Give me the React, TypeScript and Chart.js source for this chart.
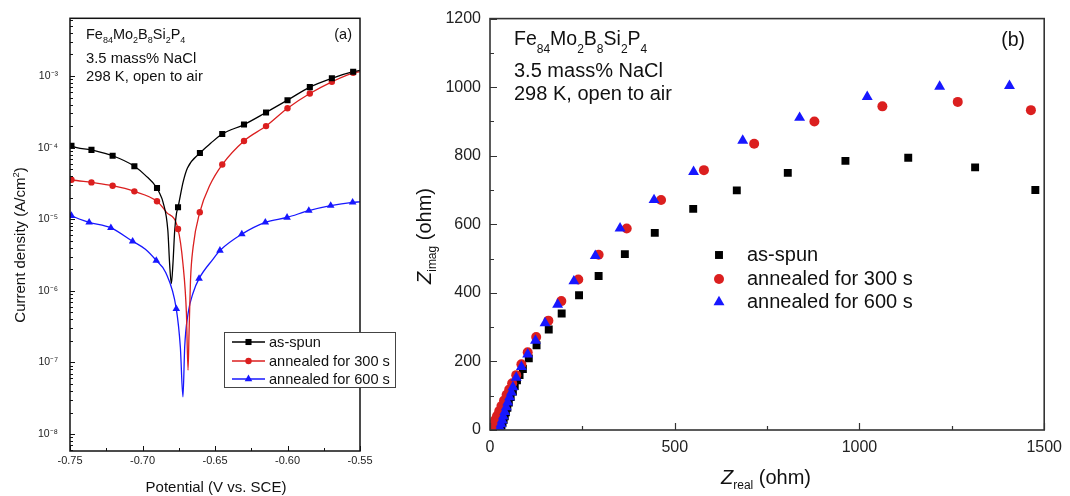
import React, { useEffect, useRef } from 'react';
import { Chart, registerables } from 'chart.js';

Chart.register(...registerables);

const FONT = "'Liberation Sans', Arial, Helvetica, sans-serif";

// ---------------- Panel (a): polarization curves ----------------
const seriesLabels = ['as-spun', 'annealed for 300 s', 'annealed for 600 s'];

const asSpunPotential = [-0.75, -0.749, -0.7352, -0.7206, -0.7056, -0.698, -0.69, -0.6882, -0.6859, -0.6825, -0.6813, -0.6801, -0.679, -0.6778, -0.6766, -0.6755, -0.672, -0.669, -0.6604, -0.653, -0.645, -0.63, -0.6148, -0.6, -0.5846, -0.5694, -0.5547, -0.55];
const asSpunCurrent = [1.1e-4, 1.06e-4, 9.3e-5, 7.7e-5, 5.5e-5, 4.1e-5, 2.73e-5, 2.3e-5, 1.75e-5, 6.9e-6, 2.4e-6, 1.26e-6, 2.4e-6, 6.9e-6, 1.2e-5, 1.47e-5, 3.3e-5, 5.2e-5, 8.4e-5, 1.15e-4, 1.55e-4, 2.1e-4, 3.1e-4, 4.6e-4, 7.0e-4, 9.3e-4, 1.15e-3, 1.2e-3];
const asSpunMarkerPotential = [-0.749, -0.7352, -0.7206, -0.7056, -0.69, -0.6755, -0.6604, -0.645, -0.63, -0.6148, -0.6, -0.5846, -0.5694, -0.5547];
const asSpunMarkerCurrent = [1.06e-4, 9.3e-5, 7.7e-5, 5.5e-5, 2.73e-5, 1.47e-5, 8.4e-5, 1.55e-4, 2.1e-4, 3.1e-4, 4.6e-4, 7.0e-4, 9.3e-4, 1.15e-3];

const ann300Potential = [-0.75, -0.749, -0.7352, -0.7206, -0.7056, -0.69, -0.6836, -0.6755, -0.6721, -0.6697, -0.6686, -0.6679, -0.6669, -0.6651, -0.6605, -0.6535, -0.645, -0.63, -0.6148, -0.6, -0.5846, -0.5694, -0.5547, -0.55];
const ann300Current = [3.6e-5, 3.56e-5, 3.27e-5, 2.94e-5, 2.45e-5, 1.78e-5, 1.26e-5, 7.3e-6, 2.39e-6, 4.8e-7, 7.8e-8, 2.55e-7, 1.4e-6, 4.07e-6, 1.25e-5, 3.0e-5, 5.8e-5, 1.24e-4, 2.0e-4, 3.55e-4, 5.7e-4, 8.3e-4, 1.11e-3, 1.15e-3];
const ann300MarkerPotential = [-0.749, -0.7352, -0.7206, -0.7056, -0.69, -0.6755, -0.6605, -0.645, -0.63, -0.6148, -0.6, -0.5846, -0.5694, -0.5547];
const ann300MarkerCurrent = [3.56e-5, 3.27e-5, 2.94e-5, 2.45e-5, 1.78e-5, 7.3e-6, 1.25e-5, 5.8e-5, 1.24e-4, 2.0e-4, 3.55e-4, 5.7e-4, 8.3e-4, 1.11e-3];

const ann600Potential = [-0.75, -0.749, -0.7368, -0.7218, -0.7068, -0.698, -0.6905, -0.684, -0.6767, -0.6739, -0.6721, -0.6709, -0.6686, -0.665, -0.661, -0.6512, -0.6466, -0.6315, -0.6153, -0.6003, -0.5853, -0.5702, -0.5551, -0.55];
const ann600Current = [1.15e-5, 1.12e-5, 9.06e-6, 7.57e-6, 4.92e-6, 3.8e-6, 2.65e-6, 1.8e-6, 5.6e-7, 1.64e-7, 3.3e-8, 1.64e-7, 4.8e-7, 9.5e-7, 1.48e-6, 2.8e-6, 3.66e-6, 6.2e-6, 9.06e-6, 1.06e-5, 1.32e-5, 1.55e-5, 1.72e-5, 1.75e-5];
const ann600MarkerPotential = [-0.749, -0.7368, -0.7218, -0.7068, -0.6905, -0.6767, -0.661, -0.6466, -0.6315, -0.6153, -0.6003, -0.5853, -0.5702, -0.5551];
const ann600MarkerCurrent = [1.12e-5, 9.06e-6, 7.57e-6, 4.92e-6, 2.65e-6, 5.6e-7, 1.48e-6, 3.66e-6, 6.2e-6, 9.06e-6, 1.06e-5, 1.32e-5, 1.55e-5, 1.72e-5];

const potentialTicks = [-0.75, -0.7, -0.65, -0.6, -0.55];
const potentialMinorTicks = [-0.725, -0.675, -0.625, -0.575];
const currentTicks = [1e-8, 1e-7, 1e-6, 1e-5, 1e-4, 1e-3];

// ---------------- Panel (b): Nyquist plots ----------------
const asSpunZReal = [28, 31, 34, 37, 40, 43, 47, 51, 56, 62, 67, 73, 80, 89, 105, 126, 159, 194, 241, 294, 365, 446, 550, 668, 806, 962, 1132, 1313, 1476];
const asSpunZImag = [6, 13, 21, 30, 40, 52, 65, 80, 96, 112, 128, 145, 160, 178, 209, 247, 293, 340, 393, 449, 513, 575, 645, 699, 750, 785, 794, 766, 700];

const ann300ZReal = [4, 9, 14, 19, 25, 31, 38, 45, 52, 60, 71, 85, 102, 125, 158, 193, 239, 294, 370, 463, 579, 715, 878, 1062, 1266, 1464];
const ann300ZImag = [6, 17, 29, 41, 55, 70, 86, 103, 118, 136, 160, 192, 227, 271, 319, 376, 439, 511, 588, 671, 758, 835, 900, 944, 957, 933];

const ann600ZReal = [27, 30, 33, 36, 40, 44, 48, 53, 58, 62, 71, 85, 102, 123, 149, 183, 227, 285, 352, 444, 551, 684, 838, 1021, 1217, 1406];
const ann600ZImag = [6, 17, 28, 40, 53, 67, 81, 96, 110, 125, 153, 184, 221, 261, 312, 366, 434, 508, 588, 671, 753, 844, 911, 972, 1002, 1004];

const zRealTicks = [0, 500, 1000, 1500];
const zRealMinorTicks = [250, 750, 1250];
const zImagTicks = [0, 200, 400, 600, 800, 1000, 1200];
const zImagMinorTicks = [100, 300, 500, 700, 900, 1100];

// ---------------- styles ----------------
const BLACK = '#000000';
const RED = '#db1f1f';
const BLUE = '#1717ff';
const colors = [BLACK, RED, BLUE];
const styles = ['rect', 'circle', 'triangle'];
const markerSizeA = [4.3, 3.2, 4.4];
const markerSizeB = [5.6, 5, 6.3];

type Seg = { t: string; s: number; dy?: number; it?: boolean };

const setFont = (ctx: CanvasRenderingContext2D, g: Seg) => {
  ctx.font = `${g.it ? 'italic ' : ''}${g.s}px ${FONT}`;
};
const richWidth = (ctx: CanvasRenderingContext2D, segs: Seg[]) => {
  let w = 0;
  segs.forEach((g) => {
    setFont(ctx, g);
    w += ctx.measureText(g.t).width;
  });
  return w;
};
const drawRich = (ctx: CanvasRenderingContext2D, x: number, y: number, segs: Seg[], align = 'left') => {
  let cx = x;
  if (align === 'center') cx = x - richWidth(ctx, segs) / 2;
  if (align === 'right') cx = x - richWidth(ctx, segs);
  ctx.textAlign = 'left';
  ctx.textBaseline = 'alphabetic';
  segs.forEach((g) => {
    setFont(ctx, g);
    ctx.fillText(g.t, cx, y + (g.dy || 0));
    cx += ctx.measureText(g.t).width;
  });
};
const formula = (big: number, small: number, off: number): Seg[] => [
  { t: 'Fe', s: big },
  { t: '84', s: small, dy: off },
  { t: 'Mo', s: big },
  { t: '2', s: small, dy: off },
  { t: 'B', s: big },
  { t: '8', s: small, dy: off },
  { t: 'Si', s: big },
  { t: '2', s: small, dy: off },
  { t: 'P', s: big },
  { t: '4', s: small, dy: off },
];

const drawMarker = (ctx: CanvasRenderingContext2D, style: string, x: number, y: number, r: number, color: string) => {
  ctx.fillStyle = color;
  ctx.beginPath();
  if (style === 'rect') {
    const s = r * Math.SQRT1_2;
    ctx.rect(x - s, y - s, 2 * s, 2 * s);
  } else if (style === 'circle') {
    ctx.arc(x, y, r, 0, Math.PI * 2);
  } else {
    let a = 0;
    ctx.moveTo(x + Math.sin(a) * r, y - Math.cos(a) * r);
    a += (2 * Math.PI) / 3;
    ctx.lineTo(x + Math.sin(a) * r, y - Math.cos(a) * r);
    a += (2 * Math.PI) / 3;
    ctx.lineTo(x + Math.sin(a) * r, y - Math.cos(a) * r);
    ctx.closePath();
  }
  ctx.fill();
};

const SUP: Record<string, string> = { '-': '⁻', '0': '⁰', '1': '¹', '2': '²', '3': '³', '4': '⁴', '5': '⁵', '6': '⁶', '7': '⁷', '8': '⁸', '9': '⁹' };
const logLabel = (v: number) => {
  const e = String(Math.round(Math.log10(v)));
  return '10' + e.split('').map((c) => SUP[c] || c).join('');
};

const pts = (xs: number[], ys: number[]) => xs.map((x, i) => ({ x, y: ys[i] }));

const lineDs = (label: string, xs: number[], ys: number[], color: string) => ({
  label,
  data: pts(xs, ys),
  showLine: true,
  borderColor: color,
  backgroundColor: color,
  borderWidth: 1.3,
  pointRadius: 0,
  pointHoverRadius: 0,
  cubicInterpolationMode: 'monotone' as const,
  fill: false,
});
const markerDs = (label: string, xs: number[], ys: number[], color: string, style: string, r: number) => ({
  label,
  data: pts(xs, ys),
  showLine: false,
  pointStyle: style,
  pointRadius: r,
  pointHoverRadius: r,
  pointBackgroundColor: color,
  pointBorderColor: color,
  pointBorderWidth: 0,
  borderColor: color,
  backgroundColor: color,
});

const drawTicks = (
  ctx: CanvasRenderingContext2D,
  a: any,
  xs: any,
  ys: any,
  xMajor: number[],
  xMinor: number[],
  yMajor: number[],
  yMinor: number[],
  majorLen: number,
  minorLen: number
) => {
  ctx.beginPath();
  const vx = (v: number, len: number) => {
    const p = Math.round(xs.getPixelForValue(v)) + 0.5;
    if (p < a.left - 1 || p > a.right + 1) return;
    ctx.moveTo(p, a.bottom);
    ctx.lineTo(p, a.bottom - len);
  };
  const vy = (v: number, len: number) => {
    const p = Math.round(ys.getPixelForValue(v)) + 0.5;
    if (p < a.top - 1 || p > a.bottom + 1) return;
    ctx.moveTo(a.left, p);
    ctx.lineTo(a.left + len, p);
  };
  xMajor.forEach((v) => vx(v, majorLen));
  xMinor.forEach((v) => vx(v, minorLen));
  yMajor.forEach((v) => vy(v, majorLen));
  yMinor.forEach((v) => vy(v, minorLen));
  ctx.stroke();
};

const panelAPlugin = {
  id: 'panelA',
  afterDatasetsDraw(chart: any) {
    const { ctx, chartArea: a, scales } = chart;
    ctx.save();
    ctx.strokeStyle = '#111';
    ctx.lineWidth = 1.5;
    ctx.strokeRect(a.left, a.top, a.right - a.left, a.bottom - a.top);
    ctx.lineWidth = 1;
    const yMinor: number[] = [];
    for (let e = -9; e <= -3; e++) {
      for (let m = 2; m <= 9; m++) {
        const v = m * Math.pow(10, e);
        if (v > scales.y.min && v < scales.y.max) yMinor.push(v);
      }
    }
    drawTicks(ctx, a, scales.x, scales.y, potentialTicks, potentialMinorTicks, currentTicks, yMinor, 5, 3);

    // annotation text
    ctx.fillStyle = '#111';
    drawRich(ctx, 86, 39, formula(14.5, 9, 4));
    drawRich(ctx, 86, 63, [{ t: '3.5 mass% NaCl', s: 14.8 }]);
    drawRich(ctx, 86, 81, [{ t: '298 K, open to air', s: 14.8 }]);
    drawRich(ctx, 352, 39, [{ t: '(a)', s: 14.5 }], 'right');

    // legend box
    ctx.fillStyle = '#ffffff';
    ctx.fillRect(224, 332, 171, 55);
    ctx.strokeStyle = '#444';
    ctx.lineWidth = 1;
    ctx.strokeRect(224.5, 332.5, 171, 55);
    const rows = [342, 361, 379];
    seriesLabels.forEach((lab, i) => {
      ctx.strokeStyle = colors[i];
      ctx.lineWidth = 1.3;
      ctx.beginPath();
      ctx.moveTo(232, rows[i]);
      ctx.lineTo(265, rows[i]);
      ctx.stroke();
      drawMarker(ctx, styles[i], 248.5, rows[i], markerSizeA[i], colors[i]);
      ctx.fillStyle = '#111';
      drawRich(ctx, 269, rows[i] + 5, [{ t: lab, s: 14.6 }]);
    });

    // axis titles
    ctx.fillStyle = '#111';
    drawRich(ctx, 216, 492, [{ t: 'Potential (V vs. SCE)', s: 15 }], 'center');
    ctx.save();
    ctx.translate(25, 245);
    ctx.rotate(-Math.PI / 2);
    drawRich(ctx, 0, 0, [
      { t: 'Current density (A/cm', s: 15 },
      { t: '2', s: 9.5, dy: -6 },
      { t: ')', s: 15 },
    ], 'center');
    ctx.restore();
    ctx.restore();
  },
};

const B_OFF = 410;

const panelBPlugin = {
  id: 'panelB',
  afterDatasetsDraw(chart: any) {
    const { ctx, chartArea: a, scales } = chart;
    ctx.save();
    ctx.strokeStyle = '#333';
    ctx.lineWidth = 1.6;
    ctx.strokeRect(a.left, a.top, a.right - a.left, a.bottom - a.top);
    ctx.lineWidth = 1.2;
    drawTicks(ctx, a, scales.x, scales.y, zRealTicks, zRealMinorTicks, zImagTicks, zImagMinorTicks, 7, 4);

    ctx.fillStyle = '#111';
    drawRich(ctx, 514 - B_OFF, 45, formula(19.5, 12, 8));
    drawRich(ctx, 514 - B_OFF, 77, [{ t: '3.5 mass% NaCl', s: 20 }]);
    drawRich(ctx, 514 - B_OFF, 100, [{ t: '298 K, open to air', s: 20 }]);
    drawRich(ctx, 1025 - B_OFF, 46, [{ t: '(b)', s: 19.5 }], 'right');

    const rows = [255, 279, 302];
    seriesLabels.forEach((lab, i) => {
      drawMarker(ctx, styles[i], 719 - B_OFF, rows[i], markerSizeB[i], colors[i]);
      ctx.fillStyle = '#111';
      drawRich(ctx, 747 - B_OFF, rows[i] + 6, [{ t: lab, s: 20 }]);
    });

    ctx.fillStyle = '#111';
    drawRich(ctx, 766 - B_OFF, 484, [
      { t: 'Z', s: 20, it: true },
      { t: 'real', s: 12, dy: 5 },
      { t: ' (ohm)', s: 20 },
    ], 'center');
    ctx.save();
    ctx.translate(431 - B_OFF, 236);
    ctx.rotate(-Math.PI / 2);
    drawRich(ctx, 0, 0, [
      { t: 'Z', s: 20, it: true },
      { t: 'imag', s: 12, dy: 5 },
      { t: ' (ohm)', s: 20 },
    ], 'center');
    ctx.restore();
    ctx.restore();
  },
};

export default function App() {
  const refA = useRef<HTMLCanvasElement | null>(null);
  const refB = useRef<HTMLCanvasElement | null>(null);

  useEffect(() => {
    const tickFontA = { family: FONT, size: 11 };
    const chartA = new Chart(refA.current as HTMLCanvasElement, {
      type: 'scatter',
      data: {
        datasets: [
          markerDs(seriesLabels[0], asSpunMarkerPotential, asSpunMarkerCurrent, BLACK, 'rect', markerSizeA[0]),
          markerDs(seriesLabels[1], ann300MarkerPotential, ann300MarkerCurrent, RED, 'circle', markerSizeA[1]),
          markerDs(seriesLabels[2], ann600MarkerPotential, ann600MarkerCurrent, BLUE, 'triangle', markerSizeA[2]),
          lineDs(seriesLabels[0], asSpunPotential, asSpunCurrent, BLACK),
          lineDs(seriesLabels[1], ann300Potential, ann300Current, RED),
          lineDs(seriesLabels[2], ann600Potential, ann600Current, BLUE),
        ] as any,
      },
      options: {
        animation: false,
        responsive: false,
        maintainAspectRatio: false,
        events: [],
        layout: { padding: { top: 17, right: 50, left: 0, bottom: 0 } },
        plugins: { legend: { display: false }, tooltip: { enabled: false }, title: { display: false } },
        scales: {
          x: {
            type: 'linear',
            min: -0.75,
            max: -0.55,
            afterBuildTicks: (s: any) => {
              s.ticks = potentialTicks.map((v) => ({ value: v }));
            },
            afterFit: (s: any) => {
              s.height = 45;
            },
            ticks: {
              font: tickFontA,
              color: '#222',
              padding: 3,
              maxRotation: 0,
              autoSkip: false,
              callback: (v: any) => Number(v).toFixed(2),
            },
            grid: { display: false, drawTicks: false },
            border: { display: false },
          },
          y: {
            type: 'logarithmic',
            min: 5.8e-9,
            max: 6.4e-3,
            afterBuildTicks: (s: any) => {
              s.ticks = currentTicks.map((v) => ({ value: v }));
            },
            afterFit: (s: any) => {
              s.width = 70;
            },
            ticks: {
              font: { family: FONT, size: 10.5 },
              color: '#222',
              padding: 12,
              autoSkip: false,
              callback: (v: any) => logLabel(Number(v)),
            },
            grid: { display: false, drawTicks: false },
            border: { display: false },
          },
        },
      } as any,
      plugins: [panelAPlugin],
    });

    const chartB = new Chart(refB.current as HTMLCanvasElement, {
      type: 'scatter',
      data: {
        datasets: [
          markerDs(seriesLabels[2], ann600ZReal, ann600ZImag, BLUE, 'triangle', markerSizeB[2]),
          markerDs(seriesLabels[1], ann300ZReal, ann300ZImag, RED, 'circle', markerSizeB[1]),
          markerDs(seriesLabels[0], asSpunZReal, asSpunZImag, BLACK, 'rect', markerSizeB[0]),
        ] as any,
      },
      options: {
        animation: false,
        responsive: false,
        maintainAspectRatio: false,
        events: [],
        layout: { padding: { top: 13, right: 19, left: 0, bottom: 0 } },
        plugins: { legend: { display: false }, tooltip: { enabled: false }, title: { display: false } },
        scales: {
          x: {
            type: 'linear',
            min: 0,
            max: 1500,
            afterBuildTicks: (s: any) => {
              s.ticks = zRealTicks.map((v) => ({ value: v }));
            },
            afterFit: (s: any) => {
              s.height = 66;
            },
            ticks: {
              font: { family: FONT, size: 16 },
              color: '#222',
              padding: 8,
              maxRotation: 0,
              autoSkip: false,
              callback: (v: any) => String(v),
            },
            grid: { display: false, drawTicks: false },
            border: { display: false },
          },
          y: {
            type: 'linear',
            min: 0,
            max: 1200,
            afterBuildTicks: (s: any) => {
              s.ticks = zImagTicks.map((v) => ({ value: v }));
            },
            afterFit: (s: any) => {
              s.width = 80;
            },
            ticks: {
              font: { family: FONT, size: 16 },
              color: '#222',
              padding: 9,
              autoSkip: false,
              callback: (v: any) => String(v),
            },
            grid: { display: false, drawTicks: false },
            border: { display: false },
          },
        },
      } as any,
      plugins: [panelBPlugin],
    });

    return () => {
      chartA.destroy();
      chartB.destroy();
    };
  }, []);

  return (
    <div style={{ position: 'fixed', left: 0, top: 0, width: 1070, height: 496, background: '#ffffff', overflow: 'hidden' }}>
      <canvas ref={refA} width={410} height={496} style={{ position: 'absolute', left: 0, top: 0, width: 410, height: 496 }} />
      <canvas ref={refB} width={660} height={496} style={{ position: 'absolute', left: B_OFF, top: 0, width: 660, height: 496 }} />
    </div>
  );
}
